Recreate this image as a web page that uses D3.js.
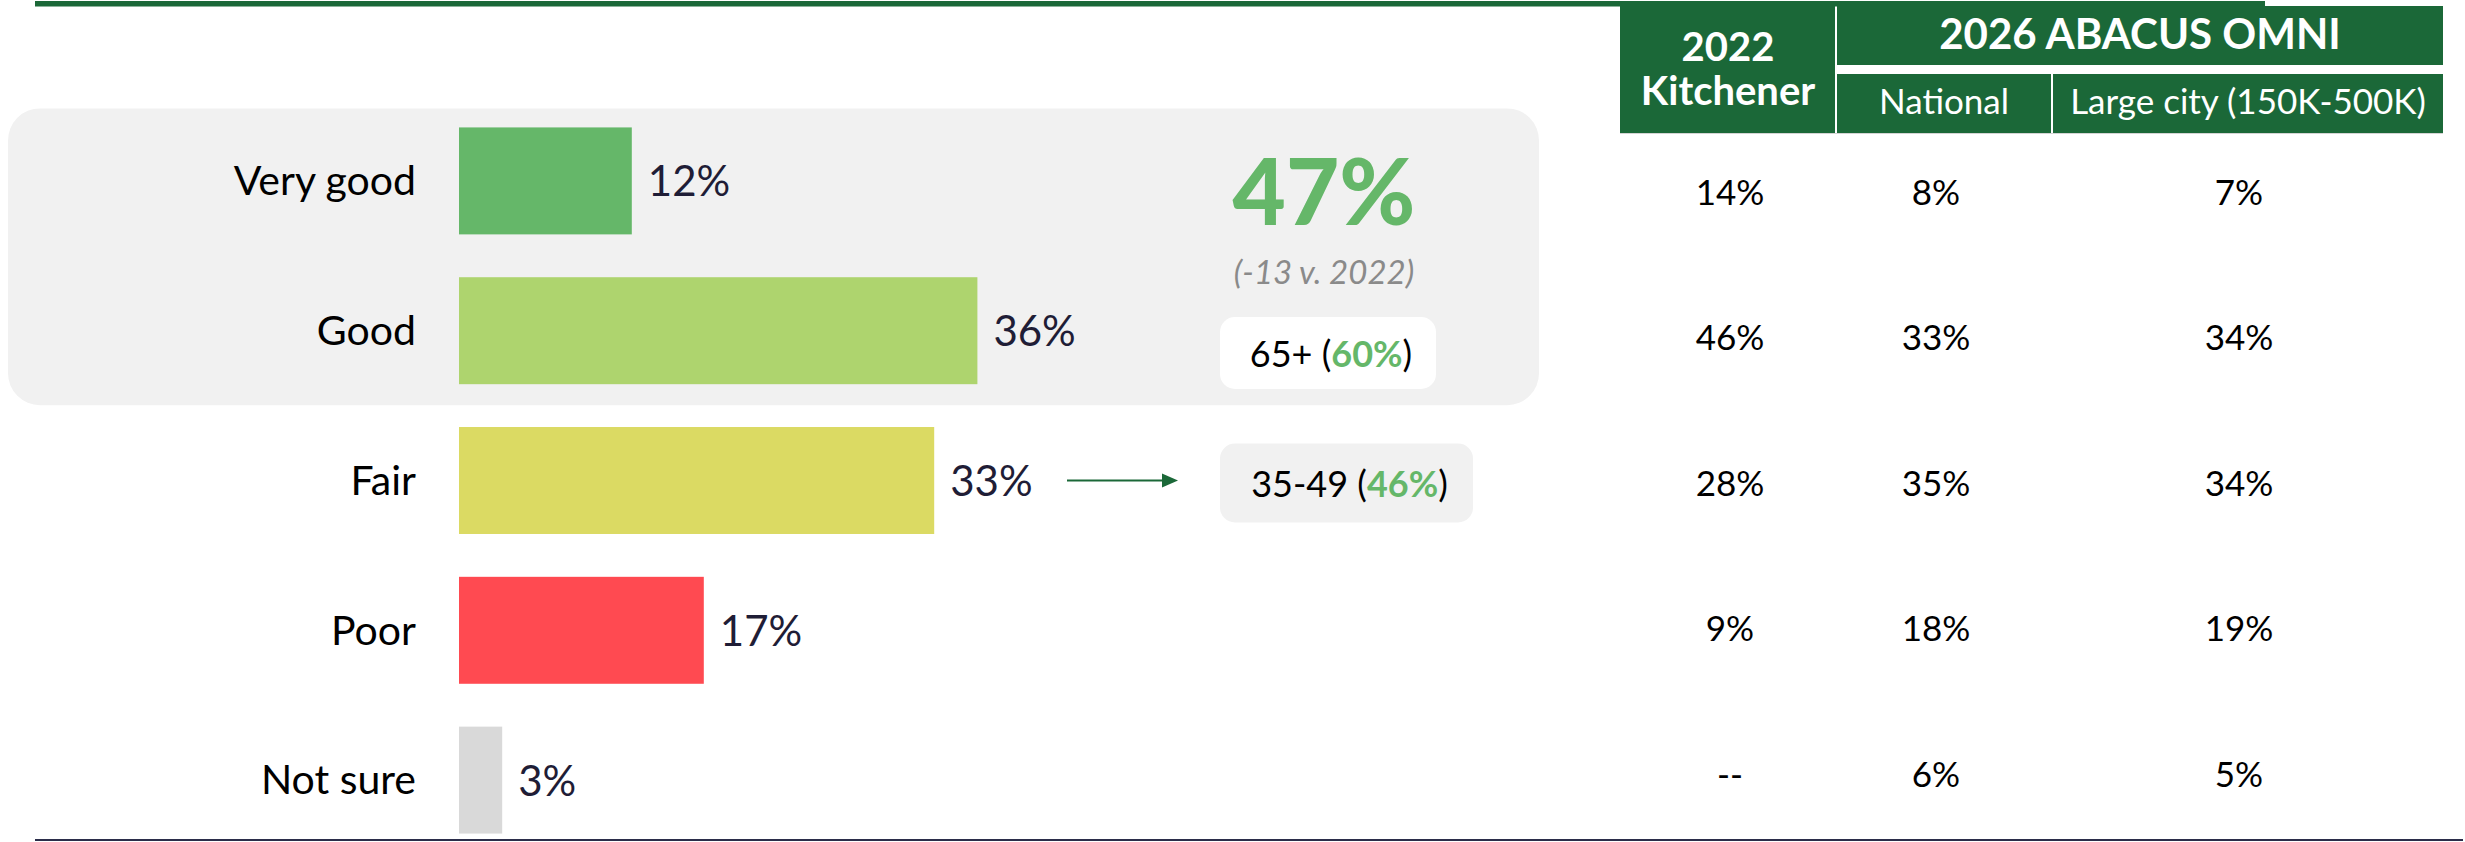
<!DOCTYPE html>
<html>
<head>
<meta charset="utf-8">
<script src="https://cdn.jsdelivr.net/npm/d3@7"></script>
<style>
  body { margin: 0; background: #ffffff; }
  text { font-family: Lato, "Open Sans", sans-serif; }
</style>
</head>
<body>
<div id="viz-container"></div>
<script>
// ---- data ----
let categories = ["Very good", "Good", "Fair", "Poor", "Not sure"];
let values = [12, 36, 33, 17, 3];
let barColors = ["#65b769", "#aed46e", "#dbda63", "#ff4a51", "#d9d9d9"];

let tableHeaders = ["National", "Large city (150K-500K)"];
let kitchener2022 = ["14%", "46%", "28%", "9%", "--"];
let national2026 = ["8%", "33%", "35%", "18%", "6%"];
let largeCity2026 = ["7%", "34%", "34%", "19%", "5%"];

let topTwoTotal = "47%";
let topTwoChange = "(-13 v. 2022)";
let callouts = [
  {label: "65+", value: "60%"},
  {label: "35-49", value: "46%"}
];

let green = "#1b6838";
let lightGreen = "#65b769";

let viz = d3.select("#viz-container")
  .append("svg")
    .attr("width", 2465)
    .attr("height", 842)
    .style("background-color", "white");

let xScale = d3.scaleLinear().domain([0, 100]).range([459, 459 + 1440]);
let yScale = d3.scaleBand()
  .domain(categories)
  .range([106, 855])
  .paddingInner(0.286)
  .paddingOuter(0.143);
// the table rows sit on a slightly tighter grid than the bars
let rowScale = d3.scalePoint()
  .domain(categories)
  .range([192, 774]);

// top and bottom rules
viz.append("rect")
  .attr("x", 35).attr("y", 1)
  .attr("width", 2230).attr("height", 5.5)
  .attr("fill", green);
viz.append("line")
  .attr("x1", 35).attr("x2", 2463)
  .attr("y1", 840).attr("y2", 840)
  .attr("stroke", "#2b2d4a")
  .attr("stroke-width", 2);

// highlight for top two answers
viz.append("rect")
  .attr("x", 8)
  .attr("y", yScale("Very good") - 19)
  .attr("width", 1531)
  .attr("height", yScale("Good") + yScale.bandwidth() + 21 - (yScale("Very good") - 19))
  .attr("rx", 32)
  .attr("fill", "#f1f1f1");

// bars
let rows = categories.map(function(c, i){
  return {cat: c, val: values[i], color: barColors[i]};
});

let barGroups = viz.selectAll(".barGroup").data(rows).enter().append("g")
  .attr("class", "barGroup");

barGroups.append("rect")
  .attr("x", xScale(0))
  .attr("y", d => yScale(d.cat))
  .attr("width", d => xScale(d.val) - xScale(0))
  .attr("height", yScale.bandwidth())
  .attr("fill", d => d.color);

barGroups.append("text")
  .text(d => d.cat)
  .attr("x", 416)
  .attr("y", d => yScale(d.cat) + yScale.bandwidth() / 2)
  .attr("dy", "0.35em")
  .attr("text-anchor", "end")
  .attr("font-size", 41)
  .attr("fill", "#000");

barGroups.append("text")
  .text(d => d.val + "%")
  .attr("x", d => xScale(d.val) + 16)
  .attr("y", d => yScale(d.cat) + yScale.bandwidth() / 2)
  .attr("dy", "0.37em")
  .attr("text-anchor", "start")
  .attr("font-size", 42)
  .attr("fill", "#1f1d36");

// big total
viz.append("text")
  .text(topTwoTotal)
  .attr("x", 1324).attr("y", 225)
  .attr("text-anchor", "middle")
  .attr("font-size", 92)
  .attr("font-weight", 900)
  .attr("fill", lightGreen);

viz.append("text")
  .text(topTwoChange)
  .attr("x", 1324).attr("y", 284)
  .attr("text-anchor", "middle")
  .attr("font-size", 33)
  .attr("font-style", "italic")
  .attr("fill", "#8a8a8a");

// callout boxes
let calloutBoxes = [
  {x: 1220, y: 317, w: 216, h: 72, fill: "white"},
  {x: 1220, y: yScale("Fair") + yScale.bandwidth() / 2 - 37, w: 253, h: 79, fill: "#f1f1f1"}
];

calloutBoxes.forEach(function(b, i){
  viz.append("rect")
    .attr("x", b.x).attr("y", b.y)
    .attr("width", b.w).attr("height", b.h)
    .attr("rx", 15)
    .attr("fill", b.fill);
  let t = viz.append("text")
    .attr("x", b.x + b.w / 2 + 3)
    .attr("y", b.y + b.h / 2)
    .attr("dy", "0.38em")
    .attr("text-anchor", "middle")
    .attr("font-size", 36)
    .attr("fill", "#000");
  t.append("tspan").text(callouts[i].label + " (");
  t.append("tspan").text(callouts[i].value)
    .attr("font-weight", 700)
    .attr("fill", lightGreen);
  t.append("tspan").text(")");
});

// arrow to the 35-49 callout
let arrowY = yScale("Fair") + yScale.bandwidth() / 2;
viz.append("line")
  .attr("x1", 1067).attr("x2", 1164)
  .attr("y1", arrowY).attr("y2", arrowY)
  .attr("stroke", green)
  .attr("stroke-width", 2);
viz.append("path")
  .attr("d", "M1162," + (arrowY - 7) + " L1178," + arrowY + " L1162," + (arrowY + 7) + " Z")
  .attr("fill", green);

// table header
viz.append("rect")
  .attr("x", 1620).attr("y", 6)
  .attr("width", 215).attr("height", 127)
  .attr("fill", green);
viz.append("rect")
  .attr("x", 1837).attr("y", 6)
  .attr("width", 606).attr("height", 59)
  .attr("fill", green);
viz.append("rect")
  .attr("x", 1837).attr("y", 74)
  .attr("width", 214).attr("height", 59)
  .attr("fill", green);
viz.append("rect")
  .attr("x", 2053).attr("y", 74)
  .attr("width", 390).attr("height", 59)
  .attr("fill", green);
viz.append("line")
  .attr("x1", 1620).attr("x2", 2443)
  .attr("y1", 133.5).attr("y2", 133.5)
  .attr("stroke", "#d4d4d4")
  .attr("stroke-width", 1);

viz.append("text")
  .text("2022")
  .attr("x", 1728).attr("y", 61)
  .attr("text-anchor", "middle")
  .attr("font-size", 40).attr("font-weight", 700)
  .attr("fill", "white");
viz.append("text")
  .text("Kitchener")
  .attr("x", 1728).attr("y", 105)
  .attr("text-anchor", "middle")
  .attr("font-size", 40).attr("font-weight", 700)
  .attr("fill", "white");
viz.append("text")
  .text("2026 ABACUS OMNI")
  .attr("x", 2140).attr("y", 49)
  .attr("text-anchor", "middle")
  .attr("font-size", 42).attr("font-weight", 700)
  .attr("fill", "white");

let subCenters = [1944, 2248];
viz.selectAll(".subHeader").data(tableHeaders).enter().append("text")
  .attr("class", "subHeader")
  .text(d => d)
  .attr("x", (d, i) => subCenters[i])
  .attr("y", 114)
  .attr("text-anchor", "middle")
  .attr("font-size", 35)
  .attr("fill", "white");

// table values
let tableCols = [
  {x: 1730, vals: kitchener2022},
  {x: 1936, vals: national2026},
  {x: 2239, vals: largeCity2026}
];

tableCols.forEach(function(col){
  viz.selectAll(null).data(col.vals).enter().append("text")
    .text(d => d)
    .attr("x", col.x)
    .attr("y", (d, i) => rowScale(categories[i]))
    .attr("dy", "0.36em")
    .attr("text-anchor", "middle")
    .attr("font-size", 35)
    .attr("fill", "#000");
});
</script>
</body>
</html>
